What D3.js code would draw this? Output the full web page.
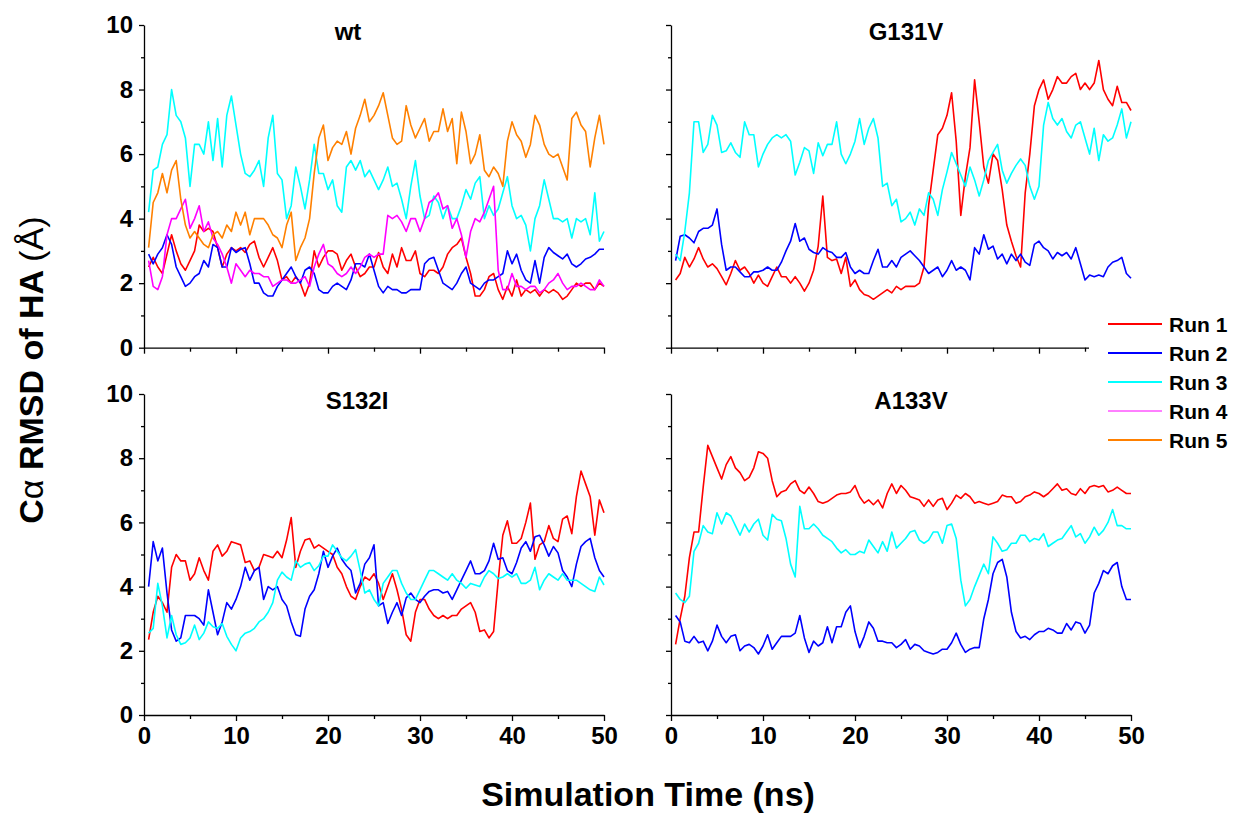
<!DOCTYPE html>
<html>
<head>
<meta charset="utf-8">
<script src="https://cdn.jsdelivr.net/npm/d3@7"></script>
<style>
  body { margin: 0; background: #fff; }
  text { font-family: "Liberation Sans", Arial, sans-serif; }
</style>
</head>
<body>
<div id="chart"></div>
<script>
// sample grid: one value every 0.5 ns from 0.5 to 50 ns
var TIMES = d3.range(0.5, 50.01, 0.5);

var RUNS = ["Run 1", "Run 2", "Run 3", "Run 4", "Run 5"];
var RUN_COLORS = ["#ff0000", "#0000ff", "#00ffff", "#ff00ff", "#ff8000"];
var PANEL_NAMES = ["wt", "G131V", "S132I", "A133V"];
var X_TICKS = [0, 10, 20, 30, 40, 50];
var Y_TICKS = [0, 2, 4, 6, 8, 10];

var wt_run1 = [2.5,2.8,2.5,2.3,2.9,3.5,3.0,2.6,2.4,2.7, 3.0,3.8,3.6,3.7,3.6,3.1,2.5,2.9,3.1,3.0,
  3.1,2.95,3.2,3.3,2.8,2.5,2.8,3.1,2.7,2.1, 2.2,2.0,2.2,2.0,1.6,2.0,3.0,2.5,2.8,3.0,
  3.0,2.9,2.4,2.7,2.9,2.5,2.2,2.3,2.5,2.5, 2.95,2.5,2.3,2.9,2.5,3.1,2.7,2.7,3.0,2.3,
  2.2,2.4,2.4,2.3,2.5,2.9,3.1,3.2,3.4,2.8, 2.3,1.6,1.6,1.8,2.2,2.3,1.8,1.5,1.9,1.6,
  2.1,1.6,1.8,1.7,1.8,1.6,1.8,1.7,1.8,1.7, 1.5,1.6,1.8,2.0,1.9,2.0,2.0,1.8,2.0,1.9];
var wt_run2 = [2.9,2.6,2.9,3.1,3.5,3.2,2.5,2.2,1.9,2.0, 2.2,2.3,2.7,2.5,3.2,3.1,2.5,2.5,3.1,2.95,
  3.05,3.1,2.6,2.0,2.0,1.7,1.6,1.6,1.9,2.1, 2.3,2.5,2.2,2.0,2.4,2.5,2.3,1.8,1.7,1.7,
  1.9,2.0,1.9,1.8,2.1,2.6,2.6,2.5,2.9,2.4, 1.9,1.7,1.9,1.8,1.8,1.7,1.7,1.8,1.8,1.8,
  2.6,2.75,2.8,2.4,2.0,1.9,1.8,2.0,2.3,2.5, 2.0,1.9,1.8,2.0,2.1,2.1,2.2,2.3,3.0,2.6,
  2.9,2.4,2.1,2.0,2.7,2.0,2.8,3.1,2.95,2.85, 2.75,2.9,2.6,2.5,2.6,2.75,2.8,2.9,3.05,3.05];
var wt_run3 = [4.2,5.5,5.6,6.3,6.6,8.0,7.2,7.0,6.5,5.0, 6.3,6.3,6.0,7.0,5.8,7.1,5.6,7.2,7.8,6.9,
  6.0,5.4,5.3,5.5,5.8,5.0,6.5,7.2,5.4,5.2, 4.0,4.4,5.6,5.0,4.3,5.2,6.3,5.4,5.4,4.9,
  5.2,4.4,4.2,5.6,5.8,5.5,5.8,5.3,5.5,5.2, 4.9,5.2,5.6,5.0,5.1,4.6,4.0,5.0,5.8,4.7,
  4.0,4.1,4.7,4.5,4.0,4.4,4.0,4.0,4.4,4.9, 4.6,5.1,5.3,4.0,4.4,4.1,4.3,4.8,5.3,4.4,
  4.0,4.1,3.8,3.0,4.0,4.4,5.2,4.6,4.0,4.0, 3.9,4.0,3.4,4.0,3.9,4.0,3.5,4.8,3.3,3.6];
var wt_run4 = [2.7,1.9,1.8,2.2,3.5,4.0,4.0,4.3,4.6,3.7, 4.0,4.4,3.6,3.9,3.4,3.2,2.9,2.5,2.0,2.6,
  2.4,2.2,2.4,2.3,2.3,2.2,2.2,1.9,2.0,2.1, 2.1,2.0,2.0,2.1,2.2,1.9,2.5,2.9,3.2,2.6,
  2.5,2.3,2.2,2.3,2.5,2.3,2.5,2.8,2.9,2.8, 2.9,2.9,4.1,4.0,4.1,3.9,3.6,4.0,4.0,3.6,
  4.0,4.5,4.6,4.8,4.3,4.4,3.7,4.0,3.5,2.8, 3.6,4.0,3.9,4.2,4.6,5.0,2.4,1.8,1.8,2.3,
  1.9,1.9,1.8,1.9,1.9,1.7,1.8,2.0,2.1,2.3, 2.0,1.8,1.9,1.9,2.0,1.9,1.8,1.8,2.1,1.9];
var wt_run5 = [3.1,4.5,4.8,5.4,4.8,5.5,5.8,4.6,3.8,3.4, 3.6,3.4,3.2,3.1,3.5,3.6,3.4,3.8,3.6,4.2,
  3.8,4.2,3.5,4.0,4.0,4.0,3.8,3.5,3.4,3.1, 3.8,4.2,2.7,3.1,3.4,4.0,5.4,6.5,6.9,5.8,
  6.2,6.4,6.3,6.7,6.0,6.8,7.2,7.7,7.0,7.2, 7.5,7.9,7.2,6.5,6.3,6.4,7.5,6.9,6.5,6.8,
  7.1,6.4,6.7,6.7,7.4,6.7,7.1,5.7,7.3,6.7, 5.7,6.0,6.6,5.5,5.3,5.6,5.4,5.0,6.4,7.0,
  6.6,6.4,5.9,6.3,7.2,6.9,6.3,6.0,5.9,6.0, 5.6,5.2,7.1,7.3,6.9,6.7,5.6,6.5,7.2,6.3];

var g131v_run1 = [2.1,2.3,2.8,2.5,2.75,3.1,2.75,2.5,2.6,2.45, 2.2,1.95,2.3,2.7,2.4,2.5,2.3,2.0,2.25,2.0,
  1.9,2.2,2.5,2.2,2.2,2.0,2.2,2.0,1.75,2.0, 2.4,3.15,4.7,2.8,2.7,2.75,2.3,2.8,1.9,2.1,
  1.8,1.65,1.6,1.5,1.6,1.7,1.8,1.7,1.9,1.8, 1.9,1.9,1.9,2.0,2.5,4.4,5.5,6.6,6.8,7.2,
  7.9,6.4,4.1,5.3,6.2,8.3,7.0,5.6,5.1,6.0, 5.8,4.9,3.8,3.3,2.85,2.5,4.8,6.0,7.5,8.0,
  8.3,7.7,8.0,8.4,8.2,8.2,8.4,8.5,8.0,8.2, 8.0,8.2,8.9,8.0,7.7,7.5,8.1,7.6,7.6,7.35];
var g131v_run2 = [2.7,3.45,3.5,3.4,3.25,3.6,3.7,3.7,3.8,4.3, 3.2,2.4,2.5,2.5,2.35,2.2,2.2,2.35,2.35,2.4,
  2.5,2.4,2.4,2.65,3.0,3.3,3.85,3.3,3.4,3.05, 2.95,2.9,3.1,3.0,2.95,2.8,2.8,2.95,2.5,2.3,
  2.4,2.3,2.3,2.7,3.05,2.5,2.5,2.7,2.5,2.8, 2.9,3.0,2.85,2.7,2.5,2.3,2.4,2.5,2.2,2.4,
  2.7,2.4,2.5,2.4,2.1,3.1,2.9,3.5,3.05,3.15, 2.75,2.9,2.6,2.9,2.7,2.9,2.65,2.55,3.2,3.3,
  3.1,3.0,2.75,2.95,2.85,2.95,2.75,3.1,2.6,2.1, 2.25,2.2,2.25,2.2,2.5,2.65,2.7,2.8,2.3,2.15];
var g131v_run3 = [2.9,2.7,3.6,4.8,7.0,7.0,6.05,6.3,7.2,6.9, 6.05,6.1,6.35,6.05,5.9,7.0,6.6,6.6,5.6,6.0,
  6.3,6.5,6.6,6.5,6.6,6.4,5.35,5.75,6.2,6.1, 5.4,6.35,5.95,6.3,6.3,7.0,6.0,5.7,6.0,6.4,
  7.1,6.3,6.8,7.1,6.5,5.0,5.1,4.4,4.6,3.9, 4.0,4.2,3.8,4.3,4.1,4.8,4.6,4.1,4.9,5.45,
  6.05,5.7,5.35,5.0,5.6,5.2,4.7,5.2,5.8,6.05, 6.3,5.5,5.1,5.4,5.65,5.85,5.65,5.0,4.6,5.0,
  6.9,7.6,7.1,6.9,7.1,6.7,6.5,6.9,7.0,6.5, 6.0,6.8,5.8,6.6,6.4,6.5,6.9,7.4,6.5,7.0];

var s132i_run1 = [2.35,3.2,3.7,3.5,3.2,4.6,5.0,4.8,4.8,4.2, 4.4,4.9,4.5,4.2,5.1,5.3,4.95,5.1,5.4,5.35,
  5.3,4.75,4.8,4.5,4.6,5.0,4.95,4.9,5.1,4.9, 5.45,6.15,4.6,5.1,5.45,5.5,5.2,5.3,5.2,5.1,
  5.0,4.6,4.4,4.0,3.7,3.6,4.0,4.3,4.2,4.4, 4.1,3.6,4.0,4.4,3.9,3.3,2.5,2.3,3.2,3.6,
  3.6,3.3,3.1,3.0,3.1,3.0,3.1,3.1,3.3,3.4, 3.5,3.2,2.6,2.65,2.4,2.6,4.2,5.6,6.05,5.35,
  5.35,5.5,6.0,6.6,4.85,5.3,5.4,5.9,5.5,5.4, 6.1,6.2,5.65,6.8,7.6,7.2,6.8,5.6,6.7,6.3];
var s132i_run2 = [4.0,5.4,4.8,5.2,3.8,2.65,2.3,2.4,3.1,3.1, 3.1,3.0,2.8,3.9,3.2,2.5,2.9,3.5,3.3,3.6,
  4.0,4.6,4.2,4.5,4.6,3.6,4.0,3.9,4.0,3.6, 3.4,2.9,2.5,2.45,3.3,3.7,3.9,4.4,5.1,4.6,
  4.95,5.2,4.85,4.65,4.5,3.8,4.1,4.7,4.9,5.3, 3.4,3.5,2.85,3.2,3.5,3.1,3.65,3.8,3.6,3.5,
  3.7,3.85,3.9,3.9,3.8,3.85,3.6,3.9,4.2,4.5, 4.8,4.4,4.4,4.5,4.8,5.35,4.85,4.9,4.5,4.4,
  4.75,5.2,5.4,5.1,5.55,5.6,5.3,4.95,5.25,5.05, 4.5,4.3,4.0,4.7,5.25,5.4,5.5,4.9,4.5,4.3];
var s132i_run3 = [2.55,2.7,4.1,3.4,2.4,3.1,2.5,2.2,2.25,2.4, 2.8,2.35,2.55,2.9,2.75,2.7,2.85,2.45,2.2,2.0,
  2.4,2.55,2.6,2.7,2.9,3.0,3.2,3.5,4.2,4.45, 4.3,4.2,4.8,4.6,4.7,4.75,4.5,4.65,4.95,4.95,
  5.3,5.1,4.9,4.8,4.95,5.15,4.5,3.8,3.9,3.6, 3.4,4.1,4.3,4.5,4.5,4.1,3.8,3.6,3.6,3.9,
  4.2,4.5,4.5,4.4,4.3,4.2,4.4,4.2,4.1,3.95, 4.1,4.05,4.0,4.3,4.5,4.4,4.25,4.3,4.4,4.3,
  4.4,4.1,4.1,4.2,4.6,3.9,4.2,4.4,4.3,4.2, 4.4,4.2,4.2,4.2,4.1,4.0,3.9,3.85,4.3,4.05];

var a133v_run1 = [2.2,3.0,3.7,4.9,5.7,5.7,7.1,8.4,8.05,7.7, 7.35,7.8,8.05,7.7,7.55,7.3,7.4,7.7,8.2,8.15,
  8.0,7.3,6.8,6.95,7.0,7.2,7.3,7.0,6.9,7.1, 6.9,6.65,6.6,6.65,6.75,6.85,6.9,6.9,6.95,7.15,
  6.8,6.6,6.7,6.55,6.7,6.45,6.9,7.2,6.9,7.15, 7.0,6.8,6.75,6.7,6.5,6.7,6.5,6.7,6.75,6.4,
  6.6,6.85,6.75,6.9,6.8,6.6,6.65,6.6,6.55,6.6, 6.65,6.85,6.8,6.8,6.6,6.65,6.8,6.85,6.95,6.9,
  6.8,6.9,7.05,7.2,7.0,7.05,6.9,6.85,7.05,6.9, 7.1,7.15,7.1,7.15,6.95,7.0,7.1,7.0,6.9,6.9];
var a133v_run2 = [3.1,2.9,2.3,2.25,2.45,2.25,2.3,2.0,2.3,2.8, 2.45,2.25,2.45,2.5,2.0,2.15,2.2,2.1,1.9,2.15,
  2.5,2.05,2.25,2.45,2.45,2.45,2.55,3.1,2.4,1.95, 2.3,2.15,2.25,2.75,2.25,2.75,2.75,3.2,3.4,2.6,
  2.1,2.45,2.9,2.7,2.3,2.3,2.25,2.25,2.1,2.2, 2.35,2.05,2.2,2.15,2.0,1.95,1.9,1.95,2.05,2.05,
  2.25,2.55,2.2,1.95,2.05,2.1,2.1,3.0,3.6,4.4, 4.75,4.85,4.3,3.2,2.6,2.4,2.45,2.35,2.5,2.6,
  2.6,2.7,2.65,2.55,2.55,2.85,2.65,2.9,2.85,2.55, 2.8,3.8,4.1,4.5,4.4,4.65,4.75,4.0,3.6,3.6];
var a133v_run3 = [3.8,3.6,3.5,3.7,5.1,5.35,5.9,5.7,5.65,6.3, 5.95,6.3,6.2,5.9,5.6,5.95,5.7,5.95,6.1,5.6,
  5.45,6.25,6.1,6.05,5.5,4.7,4.3,6.5,5.8,5.8, 5.95,5.8,5.6,5.5,5.4,5.2,5.05,5.15,5.0,5.0,
  5.1,5.05,5.45,5.25,5.05,5.4,5.1,5.7,5.2,5.35, 5.5,5.7,5.75,5.45,5.35,5.45,5.7,5.7,5.35,5.9,
  5.95,5.5,4.2,3.4,3.6,4.0,4.35,4.7,4.4,5.55, 5.35,5.1,5.15,5.35,5.35,5.6,5.6,5.4,5.5,5.45,
  5.65,5.25,5.35,5.45,5.5,5.7,5.9,5.55,5.65,5.35, 5.55,5.85,5.6,5.75,6.0,6.4,5.9,5.9,5.8,5.8];

// runs for each panel, in run order (null = run not present)
var PANEL_RUNS = [
  [wt_run1, wt_run2, wt_run3, wt_run4, wt_run5],
  [g131v_run1, g131v_run2, g131v_run3, null, null],
  [s132i_run1, s132i_run2, s132i_run3, null, null],
  [a133v_run1, a133v_run2, a133v_run3, null, null]
];

var W = 1235, H = 816;
var COLS = [[144, 604], [671, 1131]];
var ROWS = [[25, 347.7], [394, 715]];
var TITLE_X = [348, 906, 357, 911];

var svg = d3.select("#chart").append("svg")
  .attr("width", W)
  .attr("height", H);

PANEL_NAMES.forEach(function(name, i) {
  var col = COLS[i % 2], row = ROWS[Math.floor(i / 2)];
  var x = d3.scaleLinear().domain([0, 50]).range(col);
  var y = d3.scaleLinear().domain([0, 10]).range([row[1], row[0]]);
  var g = svg.append("g").attr("class", "panel");

  // data lines
  var line = d3.line()
    .x(function(d, k) { return x(TIMES[k]); })
    .y(function(d) { return y(d); });

  PANEL_RUNS[i].forEach(function(series, r) {
    if (!series) return;
    g.append("path")
      .datum(series)
      .attr("fill", "none")
      .attr("stroke", RUN_COLORS[r])
      .attr("stroke-width", 1.6)
      .attr("stroke-linejoin", "round")
      .attr("d", line);
  });

  // x axis: minor then major
  var xMinor = g.append("g")
    .attr("transform", "translate(0," + row[1] + ")")
    .call(d3.axisBottom(x).tickValues([5, 15, 25, 35, 45]).tickSize(4).tickFormat(""));
  xMinor.select(".domain").remove();

  var xMajor = g.append("g")
    .attr("class", "axis")
    .attr("transform", "translate(0," + row[1] + ")")
    .call(d3.axisBottom(x).tickValues(X_TICKS).tickSize(6).tickSizeOuter(0).tickPadding(6)
      .tickFormat(i >= 2 ? d3.format("d") : ""));

  // y axis: minor then major
  var yMinor = g.append("g")
    .attr("transform", "translate(" + col[0] + ",0)")
    .call(d3.axisLeft(y).tickValues([1, 3, 5, 7, 9]).tickSize(3).tickFormat(""));
  yMinor.select(".domain").remove();

  var yMajor = g.append("g")
    .attr("class", "axis")
    .attr("transform", "translate(" + col[0] + ",0)")
    .call(d3.axisLeft(y).tickValues(Y_TICKS).tickSize(5).tickSizeOuter(0).tickPadding(6)
      .tickFormat(i % 2 === 0 ? d3.format("d") : ""));

  g.selectAll(".domain, .tick line")
    .attr("stroke", "#000")
    .attr("stroke-width", 1.3);
  g.selectAll(".axis text")
    .attr("fill", "#000")
    .style("font-size", "24px")
    .style("font-weight", "bold")
    .style("font-family", '"Liberation Sans", Arial, sans-serif');

  g.append("text")
    .attr("x", TITLE_X[i])
    .attr("y", row[0] + 15)
    .attr("text-anchor", "middle")
    .style("font-size", "24px")
    .style("font-weight", "bold")
    .text(name);
});

// legend (white box sits over the end of the G131V x axis)
var legend = svg.append("g").attr("class", "legend");
legend.append("rect")
  .attr("x", 1089).attr("y", 306)
  .attr("width", 146).attr("height", 150)
  .attr("fill", "#fff");

var item = legend.selectAll("g.item")
  .data(RUNS)
  .enter()
  .append("g")
  .attr("class", "item")
  .attr("transform", function(d, i) { return "translate(0," + (324 + 29 * i) + ")"; });

item.append("line")
  .attr("x1", 1108).attr("x2", 1162)
  .attr("stroke", function(d, i) { return RUN_COLORS[i]; })
  .attr("stroke-width", function(d, i) { return i === 3 ? 1 : 2.2; });

item.append("text")
  .attr("x", 1169)
  .attr("dy", "0.36em")
  .style("font-size", "21px")
  .style("font-weight", "bold")
  .text(function(d) { return d; });

// axis titles
svg.append("text")
  .attr("x", 648)
  .attr("y", 806)
  .attr("text-anchor", "middle")
  .style("font-size", "34px")
  .style("font-weight", "bold")
  .text("Simulation Time (ns)");

var yTitle = svg.append("text")
  .attr("transform", "translate(43,370) rotate(-90)")
  .attr("text-anchor", "middle")
  .style("font-size", "34px");
yTitle.append("tspan").style("font-weight", "bold").text("C");
yTitle.append("tspan").style("font-weight", "normal").text("\u03b1");
yTitle.append("tspan").style("font-weight", "bold").text(" RMSD of HA ");
yTitle.append("tspan").style("font-weight", "normal").text("(\u00c5)");
</script>
</body>
</html>
